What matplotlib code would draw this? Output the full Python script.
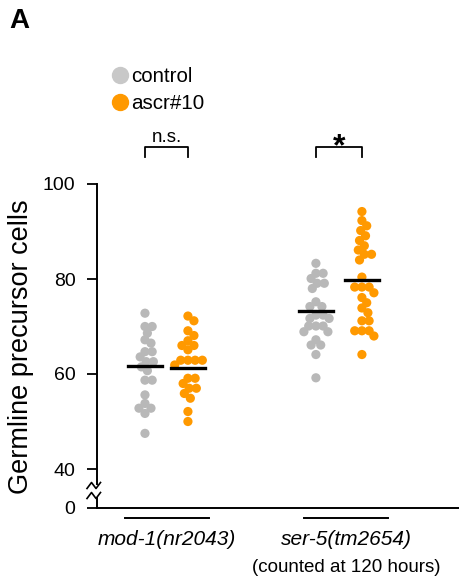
import numpy as np
import matplotlib
matplotlib.use("Agg")
import matplotlib.pyplot as plt
from matplotlib.lines import Line2D
from matplotlib.transforms import blended_transform_factory

plt.rcParams["font.family"] = ["Liberation Sans", "DejaVu Sans"]

# --- dados
grupos = ["mod-1(nr2043)", "ser-5(tm2654)"]
subtitulo = "(counted at 120 hours)"
series = ["control", "ascr#10"]
cores = ["#b8b8b8", "#ff9900"]

ctrl_mod1 = [72.8, 70.0, 70.0, 68.6, 67.2, 66.5, 64.7, 64.7, 63.6, 62.6, 62.6,
             61.5, 60.7, 58.7, 58.7, 55.6, 53.8, 52.8, 52.8, 51.7, 47.5]
ascr_mod1 = [72.2, 71.2, 69.1, 68.1, 67.0, 66.0, 66.0, 65.1, 62.9, 62.9, 62.9,
             62.9, 61.9, 59.1, 59.1, 58.0, 57.0, 57.0, 55.9, 54.9, 52.1, 50.0]
ctrl_ser5 = [83.3, 81.2, 81.2, 80.1, 79.1, 79.1, 78.0, 75.2, 74.2, 74.2, 72.4,
             72.4, 71.7, 71.7, 70.1, 70.1, 70.1, 68.9, 68.9, 67.2, 66.1, 66.1,
             64.1, 59.2]
ascr_ser5 = [94.2, 92.3, 91.2, 90.2, 89.1, 88.1, 87.0, 86.1, 85.2, 85.2, 84.0,
             80.4, 78.3, 78.3, 78.3, 77.1, 76.1, 75.0, 73.9, 72.9, 71.2, 71.2,
             69.1, 69.1, 69.1, 68.0, 64.1]
medias = [61.7, 61.3, 73.2, 79.7]
signif = ["n.s.", "*"]

colunas = [ctrl_mod1, ascr_mod1, ctrl_ser5, ascr_ser5]
col_x = [0.877, 1.117, 1.832, 2.089]
col_cor = [cores[0], cores[1], cores[0], cores[1]]

W, H = 460, 586
fig = plt.figure(figsize=(W / 100, H / 100), dpi=100)

def fx(px):
    return px / W

def fy(py):
    return 1 - py / H

# eixo superior (40-100) e inferior (0)
ax = fig.add_axes([fx(97), fy(484), fx(363), fy(184) - fy(484)])
ax_b = fig.add_axes([fx(97), fy(508), fx(363), fy(498) - fy(508)])

ax.set_xlim(0.609, 2.637)
ax.set_ylim(100 - (484 - 184) / 4.75, 100)
ax_b.set_xlim(ax.get_xlim())
ax_b.set_ylim(0, 10 / 4.75)

for a in (ax, ax_b):
    a.spines["top"].set_visible(False)
    a.spines["right"].set_visible(False)
    a.spines["left"].set_linewidth(1.4)
    a.tick_params(axis="y", length=7.5, width=1.3, labelsize=14, pad=8)
    a.set_xticks([])
    a.patch.set_alpha(0)
ax.spines["bottom"].set_visible(False)
ax_b.spines["bottom"].set_linewidth(1.4)
ax.set_yticks([40, 60, 80, 100])
ax_b.set_yticks([0])

ax.set_ylabel("Germline precursor cells", fontsize=19.5)
ax.yaxis.set_label_coords((34 - 97) / 363, (484 - 347) / 300)


# swarm simples: desloca os pontos lateralmente para não sobreporem
def swarm(xc, ys, d=6.8):
    pts = []
    desl = []
    for y in ys:
        py = ax.transData.transform((xc, y))[1]
        cand = [0.0]
        for k in range(1, 30):
            cand += [k * 1.2, -k * 1.2]
        for c in cand:
            if all((c - ox) ** 2 + (py - oy) ** 2 >= d * d for ox, oy in pts):
                pts.append((c, py))
                desl.append(c)
                break
    x0 = ax.transData.transform((xc, 0))[0]
    inv = ax.transData.inverted()
    return [inv.transform((x0 + c, 0))[0] for c in desl]


for xc, ys, cor in zip(col_x, colunas, col_cor):
    xs = swarm(xc, ys)
    ax.scatter(xs, ys, s=44, color=cor, edgecolors="none", zorder=3, clip_on=False)

for xc, m in zip(col_x, medias):
    ax.plot([xc - 0.093, xc + 0.093], [m, m], color="black", lw=2.4, zorder=4)

# marcas de quebra do eixo
for yb in (485.5, 495.5):
    xs = [87, 91.5, 96, 100.5]
    ys = [yb + 3, yb - 3, yb + 3, yb - 3]
    fig.add_artist(Line2D([fx(v) for v in xs], [fy(v) for v in ys],
                          color="black", lw=1.2))

# colchetes de significância
tr = blended_transform_factory(ax.transData, fig.transFigure)
for i, txt in enumerate(signif):
    x1, x2 = col_x[2 * i], col_x[2 * i + 1]
    fig.add_artist(Line2D([x1, x1, x2, x2], [fy(157), fy(147), fy(147), fy(157)],
                          color="black", lw=1.3, transform=tr))
    if txt == "*":
        fig.text((x1 + x2) / 2, fy(155), txt, transform=tr, ha="center",
                 va="baseline", fontsize=23, fontweight="bold")
    else:
        fig.text((x1 + x2) / 2, fy(142), txt, transform=tr, ha="center",
                 va="baseline", fontsize=13.5)

# linhas e rótulos dos grupos
for i, g in enumerate(grupos):
    gx = i + 1
    fig.add_artist(Line2D([gx - 0.236, gx + 0.236], [fy(518), fy(518)],
                          color="black", lw=1.4, transform=tr))
    fig.text(gx, fy(545), g, transform=tr, ha="center", va="baseline",
             fontsize=15, style="italic")
fig.text(2, fy(572), subtitulo, transform=tr, ha="center", va="baseline",
         fontsize=13.5)

# legenda
for i, (nome, cor) in enumerate(zip(series, cores)):
    yc = 75 + 26.5 * i
    fig.add_artist(Line2D([fx(120)], [fy(yc)], marker="o", markersize=11.5,
                          color="#c8c8c8" if i == 0 else cor, lw=0))
    fig.text(fx(131), fy(yc + 7.5), nome, fontsize=14.8, va="baseline")

fig.text(fx(9), fy(28), "A", fontsize=20, fontweight="bold", va="baseline")

fig.savefig("out.png", dpi=100)
